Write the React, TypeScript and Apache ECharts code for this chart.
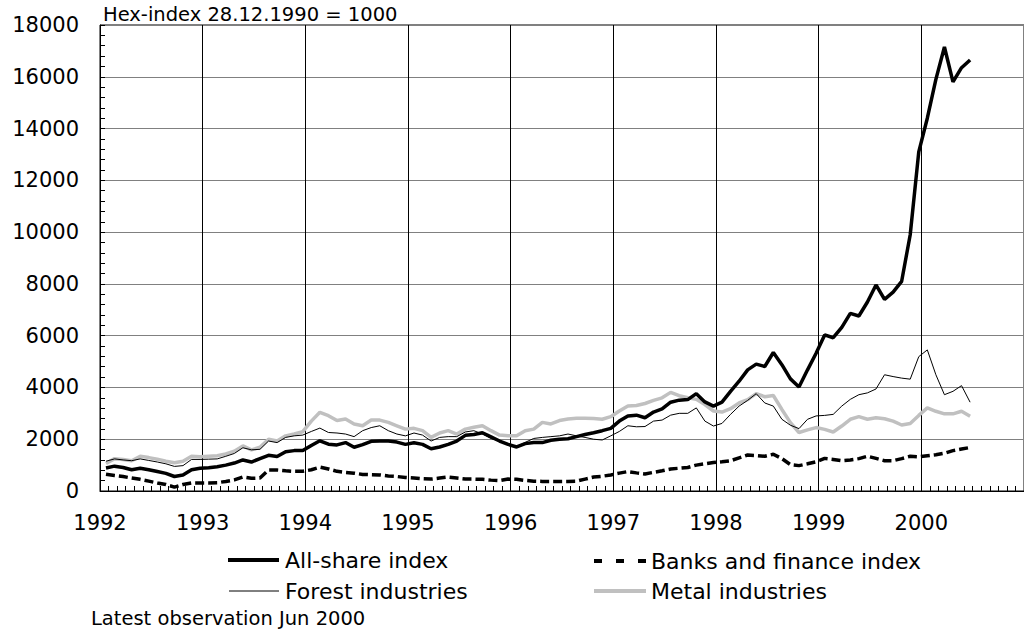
import React, { useEffect, useRef } from "react";
import * as echarts from "echarts";

// Monthly observations, Jan 1992 .. Jun 2000 (Hex-index 28.12.1990 = 1000)
const firstYear = 1992;
const yearLabels = [1992, 1993, 1994, 1995, 1996, 1997, 1998, 1999, 2000];

const allShare = [
  890, 960, 910, 820, 880, 820, 750, 680, 560, 620, 820, 880,
  900, 940, 1000, 1080, 1200, 1120, 1250, 1380, 1330, 1520, 1560, 1560,
  1760, 1940, 1810, 1780, 1870, 1690, 1790, 1920, 1930, 1930, 1890, 1800,
  1860, 1800, 1630, 1700, 1800, 1930, 2150, 2180, 2250, 2090, 1930, 1800,
  1700, 1830, 1870, 1870, 1960, 2000, 2020, 2100, 2180, 2250, 2330, 2420,
  2700, 2900, 2930, 2830, 3050, 3170, 3430, 3510, 3530, 3760, 3440, 3280,
  3430, 3850, 4240, 4680, 4900, 4810, 5350, 4880, 4330, 4020, 4680, 5320,
  6030, 5920, 6320, 6860, 6760, 7300, 7960, 7400, 7680, 8100, 9900, 13100,
  14400, 15900, 17150, 15800, 16350, 16650,
];

const banks = [
  650, 600, 560, 500, 450, 380, 310, 250, 150, 250, 310, 310,
  310, 320, 370, 430, 540, 490, 500, 810, 810, 780, 760, 760,
  820, 920, 850, 760, 720, 690, 640, 630, 620, 580, 560, 520,
  500, 470, 460, 500, 540, 500, 460, 460, 450, 420, 400, 460,
  450, 410, 380, 370, 370, 370, 370, 380, 460, 540, 570, 620,
  690, 750, 700, 660, 720, 780, 850, 880, 910, 1000, 1050, 1100,
  1130, 1170, 1280, 1390, 1370, 1340, 1420, 1250, 1020, 980, 1050, 1130,
  1260, 1220, 1170, 1200, 1250, 1340, 1260, 1170, 1170, 1250, 1340, 1320,
  1360, 1400, 1460, 1560, 1620, 1680,
];

const forest = [
  1150, 1240, 1200, 1170, 1240, 1180, 1120, 1050, 950, 980, 1220, 1220,
  1230, 1240, 1340, 1450, 1670, 1590, 1610, 1930, 1870, 2070, 2130, 2160,
  2300, 2430, 2260, 2240, 2200, 2100, 2330, 2450, 2520, 2330, 2200, 2130,
  2240, 2160, 1930, 2070, 2100, 2100, 2280, 2330, 2200, 2030, 1930, 1800,
  1700, 1880, 2030, 2070, 2100, 2130, 2200, 2130, 2070, 2000, 1970, 2130,
  2300, 2520, 2480, 2490, 2700, 2740, 2930, 3000, 3000, 3210, 2700, 2510,
  2610, 2960, 3280, 3500, 3760, 3400, 3280, 2770, 2540, 2410, 2770, 2900,
  2920, 2960, 3280, 3540, 3720, 3790, 3940, 4490, 4420, 4360, 4320, 5190,
  5450, 4490, 3720, 3850, 4070, 3430,
];

const metal = [
  1060, 1250, 1220, 1170, 1340, 1290, 1230, 1150, 1090, 1150, 1340, 1320,
  1340, 1360, 1430, 1540, 1740, 1590, 1690, 2000, 1930, 2130, 2200, 2290,
  2700, 3040, 2910, 2720, 2780, 2590, 2520, 2740, 2740, 2650, 2520, 2390,
  2420, 2330, 2070, 2240, 2330, 2200, 2390, 2460, 2520, 2330, 2160, 2130,
  2130, 2330, 2390, 2650, 2590, 2720, 2780, 2810, 2810, 2800, 2770, 2870,
  3090, 3280, 3300, 3380, 3500, 3600, 3810, 3680, 3600, 3540, 3340, 3090,
  3050, 3180, 3400, 3530, 3760, 3640, 3690, 3150, 2640, 2260, 2360, 2450,
  2380, 2280, 2510, 2770, 2870, 2770, 2830, 2790, 2700, 2550, 2610, 2920,
  3210, 3080, 2980, 2980, 3080, 2890,
];

const seriesNames = [
  "All-share index",
  "Banks and finance index",
  "Forest industries",
  "Metal industries",
];
const titleText = "Hex-index 28.12.1990 = 1000";
const noteText = "Latest observation Jun 2000";

const FONT = "DejaVu Sans";

function toPoints(vals: number[]) {
  return vals.map((v, i) => [firstYear + (i + 0.7) / 12, v]);
}

export default function App() {
  const ref = useRef<HTMLDivElement>(null);
  useEffect(() => {
    if (!ref.current) return;
    const chart = echarts.init(ref.current, undefined, { renderer: "svg" });
    const legendText = (x: number, y: number, text: string) => ({
      type: "text",
      x,
      y,
      style: {
        text,
        fontSize: 22,
        fontFamily: FONT,
        fill: "#000",
        align: "left",
        verticalAlign: "middle",
      },
    });
    chart.setOption({
      animation: false,
      backgroundColor: "#fff",
      grid: {
        left: 100,
        top: 25,
        width: 933,
        height: 466,
        show: true,
        borderColor: "#000",
        borderWidth: 1,
        backgroundColor: "transparent",
      },
      xAxis: {
        type: "value",
        min: 1992,
        max: 2001,
        interval: 1,
        axisLine: { show: true, lineStyle: { color: "#000", width: 1 } },
        axisTick: { show: true, inside: true, length: 5, lineStyle: { color: "#000" } },
        minorTick: { show: true, splitNumber: 12, length: 5, lineStyle: { color: "#000" } },
        splitLine: { show: true, lineStyle: { color: "#000", width: 1 } },
        axisLabel: {
          show: true,
          margin: 21,
          fontSize: 21,
          fontFamily: FONT,
          color: "#000",
          showMaxLabel: false,
          formatter: (v: number) => (yearLabels.includes(v) ? String(v) : ""),
        },
      },
      yAxis: {
        type: "value",
        min: 0,
        max: 18000,
        interval: 2000,
        axisLine: { show: true, lineStyle: { color: "#000", width: 1 } },
        axisTick: { show: true, inside: true, length: 5, lineStyle: { color: "#000" } },
        minorTick: { show: true, splitNumber: 5, length: 5, lineStyle: { color: "#000" } },
        splitLine: { show: true, lineStyle: { color: "#808080", width: 1 } },
        axisLabel: {
          margin: 21,
          fontSize: 21,
          fontFamily: FONT,
          color: "#000",
          formatter: (v: number) => String(v),
        },
      },
      series: [
        {
          name: seriesNames[3],
          type: "line",
          data: toPoints(metal),
          showSymbol: false,
          lineStyle: { color: "#c0c0c0", width: 3.5 },
          z: 2,
        },
        {
          name: seriesNames[2],
          type: "line",
          data: toPoints(forest),
          showSymbol: false,
          lineStyle: { color: "#000", width: 1 },
          z: 3,
        },
        {
          name: seriesNames[1],
          type: "line",
          data: toPoints(banks),
          showSymbol: false,
          lineStyle: { color: "#000", width: 3.5, type: [9, 4] },
          z: 4,
        },
        {
          name: seriesNames[0],
          type: "line",
          data: toPoints(allShare),
          showSymbol: false,
          lineStyle: { color: "#000", width: 3.5 },
          z: 5,
        },
      ],
      graphic: [
        {
          type: "text",
          x: 103,
          y: 14,
          style: {
            text: titleText,
            fontSize: 19.5,
            fontFamily: FONT,
            fill: "#000",
            align: "left",
            verticalAlign: "middle",
          },
        },
        {
          type: "line",
          shape: { x1: 228, y1: 560, x2: 279, y2: 560 },
          style: { stroke: "#000", lineWidth: 4 },
        },
        legendText(285, 560, seriesNames[0]),
        {
          type: "line",
          shape: { x1: 594, y1: 561, x2: 646, y2: 561 },
          style: { stroke: "#000", lineWidth: 4, lineDash: [8, 14] },
        },
        legendText(651, 561, seriesNames[1]),
        {
          type: "line",
          shape: { x1: 229, y1: 591, x2: 279, y2: 591 },
          style: { stroke: "#000", lineWidth: 1 },
        },
        legendText(285, 591, seriesNames[2]),
        {
          type: "line",
          shape: { x1: 594, y1: 591, x2: 646, y2: 591 },
          style: { stroke: "#c0c0c0", lineWidth: 4 },
        },
        legendText(651, 591, seriesNames[3]),
        {
          type: "text",
          x: 91,
          y: 618,
          style: {
            text: noteText,
            fontSize: 19.5,
            fontFamily: FONT,
            fill: "#000",
            align: "left",
            verticalAlign: "middle",
          },
        },
      ],
    });
    return () => chart.dispose();
  }, []);
  return (
    <div
      ref={ref}
      style={{ position: "fixed", left: 0, top: 0, width: 1024, height: 631, background: "#fff" }}
    />
  );
}
